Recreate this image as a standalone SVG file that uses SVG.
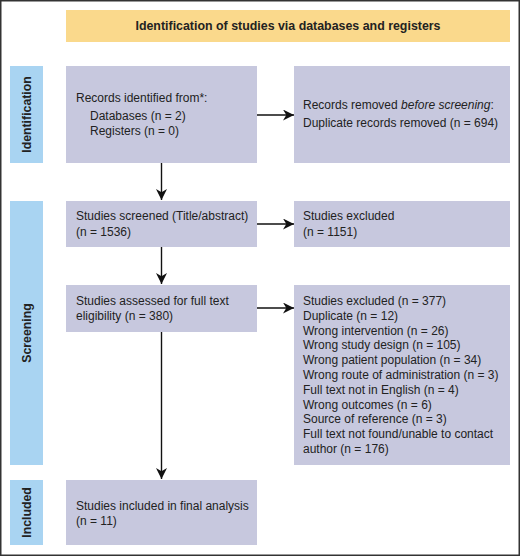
<svg xmlns="http://www.w3.org/2000/svg" width="520" height="556" viewBox="0 0 520 556">
<defs>
<marker id="ah" viewBox="0 0 10 10" refX="10" refY="5" markerWidth="11" markerHeight="11" markerUnits="userSpaceOnUse" orient="auto">
<path d="M0,0 L10,5 L0,10 L3,5 Z" fill="#111"/>
</marker>
<style>
.box{fill:#c7c8de}
.side{fill:#a9d4f2}
.t{font-family:"Liberation Sans",Arial,sans-serif;font-size:12px;fill:#222}
.sl{font-family:"Liberation Sans",Arial,sans-serif;font-size:12.3px;font-weight:bold;fill:#222;text-anchor:middle}
.c{stroke:#111;stroke-width:1.4;fill:none;marker-end:url(#ah)}
</style>
</defs>
<rect x="0" y="0" width="520" height="556" fill="#fff"/>
<rect x="0.75" y="0.75" width="518.5" height="554.5" fill="none" stroke="#333" stroke-width="1.5"/>
<g id="header">
<rect x="66" y="10" width="444" height="32" fill="#fad98c"/>
<text class="sl" x="288" y="30" style="font-size:12.4px">Identification of studies via databases and registers</text>
</g>
<g id="side-identification">
<rect class="side" x="10" y="66" width="33" height="97"/>
<text class="sl" transform="translate(30.5,114.5) rotate(-90)">Identification</text>
</g>
<g id="side-screening">
<rect class="side" x="10" y="201" width="33" height="264"/>
<text class="sl" transform="translate(30.5,333) rotate(-90)">Screening</text>
</g>
<g id="side-included">
<rect class="side" x="10" y="480" width="33" height="65"/>
<text class="sl" transform="translate(30.5,512.5) rotate(-90)">Included</text>
</g>
<g id="records">
<rect class="box" x="66" y="66" width="191" height="97"/>
<text class="t" x="76" y="102">Records identified from*:</text>
<text class="t" x="90" y="120">Databases (n = 2)</text>
<text class="t" x="90" y="135">Registers (n = 0)</text>
</g>
<g id="removed">
<rect class="box" x="294" y="66" width="216" height="97"/>
<text class="t" x="303" y="109">Records removed <tspan font-style="italic">before screening</tspan>:</text>
<text class="t" x="303" y="127">Duplicate records removed (n = 694)</text>
</g>
<g id="screened">
<rect class="box" x="66" y="201" width="191" height="46"/>
<text class="t" x="76" y="220">Studies screened (Title/abstract)</text>
<text class="t" x="76" y="236">(n = 1536)</text>
</g>
<g id="excluded1">
<rect class="box" x="294" y="201" width="216" height="46"/>
<text class="t" x="303" y="220">Studies excluded</text>
<text class="t" x="303" y="236">(n = 1151)</text>
</g>
<g id="assessed">
<rect class="box" x="66" y="285" width="191" height="47"/>
<text class="t" x="76" y="305">Studies assessed for full text</text>
<text class="t" x="76" y="320">eligibility (n = 380)</text>
</g>
<g id="excluded2">
<rect class="box" x="294" y="285" width="216" height="180"/>
<text class="t" x="303" y="305">Studies excluded (n = 377)</text>
<text class="t" x="303" y="319.8">Duplicate (n = 12)</text>
<text class="t" x="303" y="334.6">Wrong intervention (n = 26)</text>
<text class="t" x="303" y="349.4">Wrong study design (n = 105)</text>
<text class="t" x="303" y="364.2">Wrong patient population (n = 34)</text>
<text class="t" x="303" y="379">Wrong route of administration (n = 3)</text>
<text class="t" x="303" y="393.8">Full text not in English (n = 4)</text>
<text class="t" x="303" y="408.6">Wrong outcomes (n = 6)</text>
<text class="t" x="303" y="423.4">Source of reference (n = 3)</text>
<text class="t" x="303" y="438.2">Full text not found/unable to contact</text>
<text class="t" x="303" y="453">author (n = 176)</text>
</g>
<g id="included">
<rect class="box" x="66" y="480" width="191" height="65"/>
<text class="t" x="76" y="510">Studies included in final analysis</text>
<text class="t" x="76" y="525">(n = 11)</text>
</g>
<g id="connectors">
<line class="c" x1="257" y1="115" x2="294" y2="115"/>
<line class="c" x1="161.5" y1="163" x2="161.5" y2="200"/>
<line class="c" x1="257" y1="224" x2="294" y2="224"/>
<line class="c" x1="161.5" y1="247" x2="161.5" y2="284"/>
<line class="c" x1="257" y1="308" x2="294" y2="308"/>
<line class="c" x1="161.5" y1="332" x2="161.5" y2="479"/>
</g>
</svg>
